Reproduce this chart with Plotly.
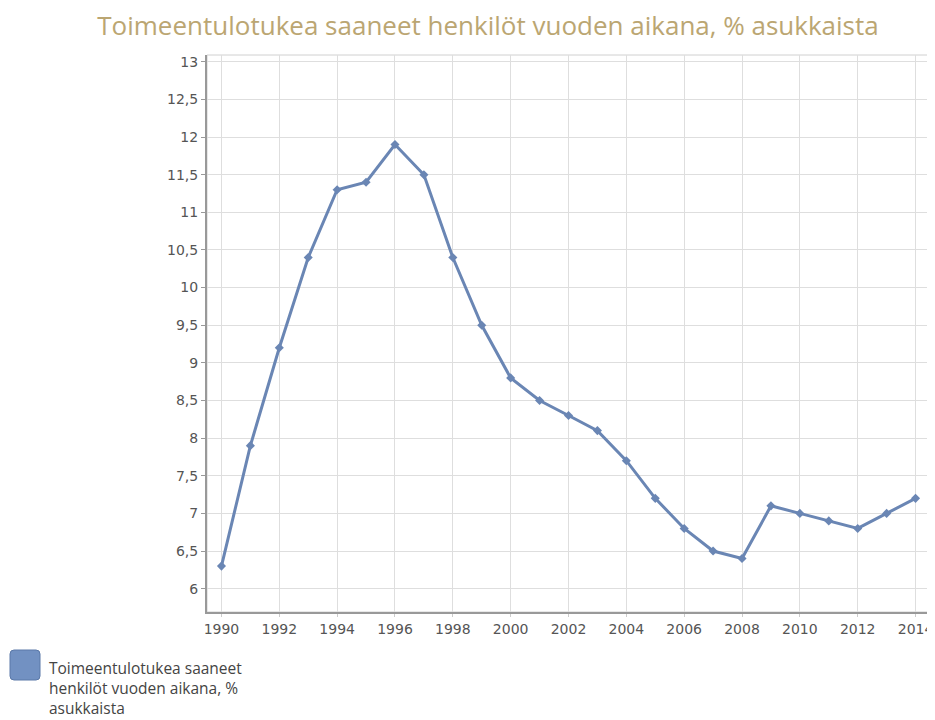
import plotly.graph_objects as go

years = list(range(1990, 2015))
values = [6.3, 7.9, 9.2, 10.4, 11.3, 11.4, 11.9, 11.5, 10.4, 9.5, 8.8, 8.5, 8.3, 8.1,
          7.7, 7.2, 6.8, 6.5, 6.4, 7.1, 7.0, 6.9, 6.8, 7.0, 7.2]
series_name = "Toimeentulotukea saaneet henkilöt vuoden aikana, % asukkaista"
legend_label = "Toimeentulotukea saaneet<br>henkilöt vuoden aikana, %<br>asukkaista"
y_ticks = [6, 6.5, 7, 7.5, 8, 8.5, 9, 9.5, 10, 10.5, 11, 11.5, 12, 12.5, 13]
y_tick_text = [str(v).replace(".", ",") for v in y_ticks]
x_ticks = list(range(1990, 2015, 2))

line_color = "#6a86b4"
legend_fill = "#7291c2"

# page body has an 8px margin, so the figure is drawn 8px in from the window corner
OFF = 8
W, H = 935 - OFF, 720 - OFF
ml, mr, mt, mb = 207 - OFF, 5, 55 - OFF, 108
pw, ph = W - ml - mr, H - mt - mb


def px_to_paper_x(px):
    return (px - OFF - ml) / pw


def px_to_paper_y(py):
    return (H - mb - (py - OFF)) / ph


# rounded square for legend swatch (window pixel box 10..40, 650..680)
x0, x1 = px_to_paper_x(10), px_to_paper_x(40)
y0, y1 = px_to_paper_y(680), px_to_paper_y(650)
rx, ry = 4 / pw, 4 / ph
path = (f"M {x0+rx},{y1} L {x1-rx},{y1} Q {x1},{y1} {x1},{y1-ry} "
        f"L {x1},{y0+ry} Q {x1},{y0} {x1-rx},{y0} L {x0+rx},{y0} "
        f"Q {x0},{y0} {x0},{y0+ry} L {x0},{y1-ry} Q {x0},{y1} {x0+rx},{y1} Z")

fig = go.Figure()
fig.add_trace(go.Scatter(
    x=years, y=values, mode="lines+markers", name=series_name,
    line=dict(color=line_color, width=3),
    marker=dict(symbol="diamond", size=7, color=line_color),
    showlegend=False,
))
fig.add_trace(go.Scatter(
    x=[None], y=[None], mode="markers", name=legend_label,
    marker=dict(symbol="square", size=1, color="rgba(0,0,0,0)"),
))

fig.update_layout(
    width=W, height=H,
    paper_bgcolor="white", plot_bgcolor="white",
    margin=dict(l=ml, r=mr, t=mt, b=mb, autoexpand=False),
    title=dict(text=series_name, x=480 / W, xref="container", xanchor="center",
               y=1 - 17.5 / H, yanchor="middle",
               font=dict(family="Open Sans", size=26, color="#bba672")),
    font=dict(family="DejaVu Sans", size=14, color="#555555"),
    legend=dict(xref="container", yref="container", x=0.001, y=1 - 643 / H,
                xanchor="left", yanchor="top", itemwidth=30,
                bgcolor="rgba(0,0,0,0)",
                font=dict(family="Open Sans", size=15.5, color="#444444")),
    xaxis=dict(range=[1989.5, 2014.5], tickvals=x_ticks,
               ticktext=[str(v) for v in x_ticks],
               showgrid=True, gridcolor="#dedede", gridwidth=1,
               showline=True, linecolor="#999999", linewidth=2, mirror=False,
               ticks="outside", ticklen=3, tickcolor="#cccccc",
               zeroline=False, automargin=False,
               tickfont=dict(size=14, color="#555555")),
    yaxis=dict(range=[5.69, 13.09], tickvals=y_ticks, ticktext=y_tick_text,
               showgrid=True, gridcolor="#dedede", gridwidth=1,
               showline=True, linecolor="#999999", linewidth=2,
               ticks="outside", ticklen=4, tickcolor="#999999",
               zeroline=False, automargin=False,
               tickfont=dict(size=14, color="#555555")),
    shapes=[
        dict(type="rect", xref="paper", yref="paper", x0=0, x1=1, y0=0, y1=1,
             line=dict(color="#d0d0d0", width=1), layer="below"),
        dict(type="path", xref="paper", yref="paper", path=path,
             fillcolor=legend_fill, line=dict(color="#5a78a8", width=1)),
    ],
)

fig.write_html("out.html")
